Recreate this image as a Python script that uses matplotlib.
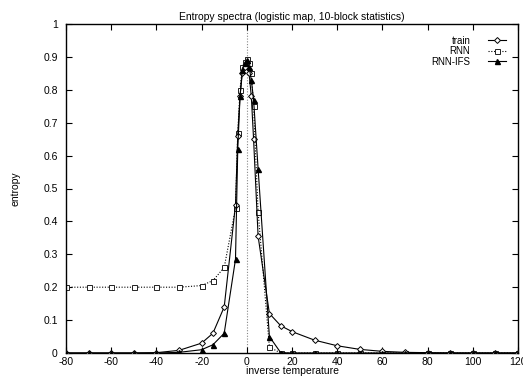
import numpy as np
import matplotlib
matplotlib.use("Agg")
import matplotlib.pyplot as plt

plt.rcParams['font.family'] = ['Liberation Sans', 'DejaVu Sans']
plt.rcParams['font.size'] = 7.5

# inverse temperature grid
beta = [-80, -70, -60, -50, -40, -30, -20, -15, -10, -5, -4, -3, -2, -1, 0,
        1, 2, 3, 5, 10, 15, 20, 30, 40, 50, 60, 70, 80, 90, 100, 110, 120]

train = [0, 0, 0, 0, 0.001, 0.008, 0.03, 0.06, 0.14, 0.45, 0.66, 0.78, 0.85, 0.87, 0.88,
         0.85, 0.78, 0.65, 0.355, 0.12, 0.083, 0.065, 0.039, 0.022, 0.011, 0.005, 0.002, 0.001, 0, 0, 0, 0]
rnn = [0.2, 0.2, 0.2, 0.2, 0.2, 0.2, 0.205, 0.22, 0.26, 0.44, 0.67, 0.80, 0.87, 0.885, 0.895,
       0.88, 0.85, 0.75, 0.43, 0.018, 0, 0, 0, 0, 0, 0, 0, 0, 0, 0, 0, 0]
rnn_ifs = [0, 0, 0, 0, 0, 0.002, 0.01, 0.025, 0.06, 0.285, 0.62, 0.78, 0.86, 0.88, 0.89,
           0.87, 0.83, 0.77, 0.56, 0.05, 0.001, 0, 0, 0, 0, 0, 0, 0, 0, 0, 0, 0]

xticks = np.arange(-80, 121, 20)
yticks = np.round(np.arange(0, 1.01, 0.1), 1)

fig = plt.figure(figsize=(5.23, 3.8), dpi=100)
ax = fig.add_axes([66/523, 1-353/380, 452/523, 329/380])

ax.axvline(0, color='#888888', lw=0.8, ls=(0, (1, 1.5)), zorder=1)

ax.plot(beta, train, color='black', lw=0.8, marker='D', ms=3, mfc='white', mec='black', mew=0.7, label='train', zorder=3)
ax.plot(beta, rnn, color='black', lw=0.8, ls=(0, (1, 1.5)), marker='s', ms=3.6, mfc='white', mec='#222222', mew=0.7, label='RNN', zorder=2)
ax.plot(beta, rnn_ifs, color='black', lw=0.8, marker='^', ms=3.6, mfc='black', mec='black', label='RNN-IFS', zorder=4)

ax.set_xlim(-80, 120)
ax.set_ylim(0, 1)
ax.set_xticks(xticks)
ax.set_yticks(yticks)
ax.set_xticklabels([str(v) for v in xticks])
ax.set_yticklabels(['0' if v == 0 else ('1' if v == 1 else f'{v:g}') for v in yticks])
ax.tick_params(direction='in', top=True, right=True, length=4, width=0.8)
ax.tick_params(axis='y', pad=6)
ax.tick_params(axis='x', pad=3)
for s in ax.spines.values():
    s.set_linewidth(1.0)

ax.set_title('Entropy spectra (logistic map, 10-block statistics)', fontsize=7.5, pad=3)
ax.set_xlabel('inverse temperature', labelpad=-1)
ax.set_ylabel('entropy', labelpad=16)

ax.legend(loc='upper right', frameon=False, markerfirst=False, handlelength=1.9,
          handletextpad=1.8, labelspacing=0.05, borderaxespad=0.8, fontsize=7)

fig.savefig('out.png', dpi=100)
